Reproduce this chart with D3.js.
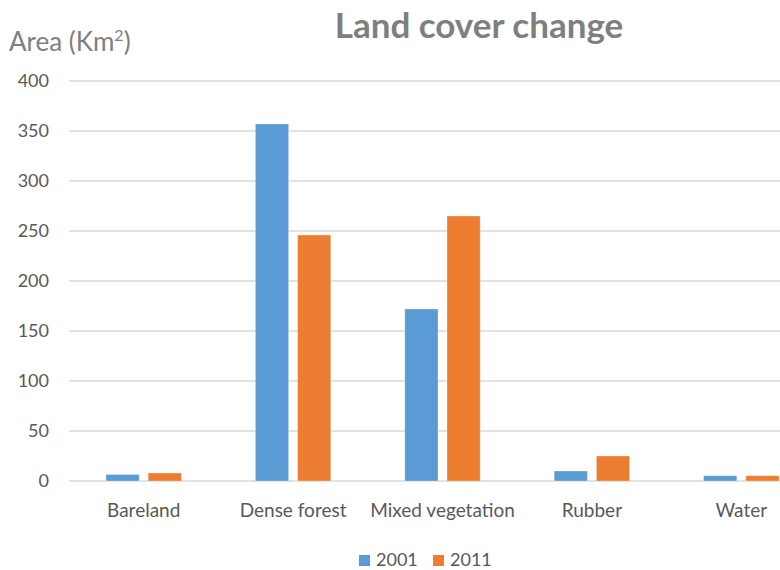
<!DOCTYPE html>
<html lang="en">
<head>
    <meta charset="UTF-8">
    <title>Land cover change</title>
    <script src="https://d3js.org/d3.v7.min.js"></script>
    <style>
        * { margin: 0; padding: 0; box-sizing: border-box; }
        body { background: #fff; font-family: Lato, "Open Sans", sans-serif; }
        svg { display: block; }
    </style>
</head>
<body>
    <div id="chart"></div>
    <script>
        // Values (Km²)
        const categories = ["Bareland", "Dense forest", "Mixed vegetation", "Rubber", "Water"];
        const years = ["2001", "2011"];
        const values2001 = [6.5, 357, 172, 10, 5.3];
        const values2011 = [8, 246, 265, 25, 5.3];
        const yTicks = [0, 50, 100, 150, 200, 250, 300, 350, 400];
        const colors = ["#5B9BD5", "#ED7D31"];

        const width = 780, height = 570;
        const plot = { left: 69, right: 816, top: 81, bottom: 481 };

        const svg = d3.select("#chart").append("svg")
            .attr("width", width)
            .attr("height", height);

        const x0 = d3.scaleBand()
            .domain(categories)
            .range([plot.left, plot.right]);

        const outer = 37;
        const x1 = d3.scaleBand()
            .domain(years)
            .range([outer, x0.bandwidth() - outer])
            .paddingInner(0.213);

        const y = d3.scaleLinear()
            .domain([0, 400])
            .range([plot.bottom, plot.top]);

        const color = d3.scaleOrdinal().domain(years).range(colors);

        // gridlines
        svg.append("g")
            .selectAll("line")
            .data(yTicks)
            .enter()
            .append("line")
            .attr("x1", plot.left)
            .attr("x2", plot.right)
            .attr("y1", d => y(d))
            .attr("y2", d => y(d))
            .attr("stroke", "#D9D9D9")
            .attr("stroke-width", 1.3);

        // y tick labels
        svg.append("g")
            .selectAll("text")
            .data(yTicks)
            .enter()
            .append("text")
            .attr("x", 49)
            .attr("y", d => y(d))
            .attr("dy", "0.35em")
            .attr("text-anchor", "end")
            .attr("font-size", "18px")
            .attr("fill", "#595959")
            .text(d => d);

        // bars
        const rows = categories.map((c, i) => ({ cat: c, vals: [values2001[i], values2011[i]] }));

        const groups = svg.append("g")
            .selectAll("g")
            .data(rows)
            .enter()
            .append("g")
            .attr("transform", d => `translate(${x0(d.cat)},0)`);

        groups.selectAll("rect")
            .data(d => years.map((yr, j) => ({ year: yr, value: d.vals[j] })))
            .enter()
            .append("rect")
            .attr("x", d => x1(d.year))
            .attr("y", d => y(d.value))
            .attr("width", x1.bandwidth())
            .attr("height", d => y(0) - y(d.value))
            .attr("fill", d => color(d.year))
            .attr("stroke", "#fff")
            .attr("stroke-opacity", 0.3)
            .attr("stroke-width", 1);

        // category labels
        svg.append("g")
            .selectAll("text")
            .data(categories)
            .enter()
            .append("text")
            .attr("x", d => x0(d) + x0.bandwidth() / 2)
            .attr("y", 517)
            .attr("text-anchor", "middle")
            .attr("font-size", "19px")
            .attr("fill", "#595959")
            .text(d => d);

        // title
        svg.append("text")
            .attr("x", 479)
            .attr("y", 38)
            .attr("text-anchor", "middle")
            .attr("font-size", "35px")
            .attr("font-weight", "bold")
            .attr("fill", "#7F7F7F")
            .text("Land cover change");

        // y axis label
        const yl = svg.append("text")
            .attr("x", 9)
            .attr("y", 51)
            .attr("font-size", "26px")
            .attr("fill", "#7F7F7F");
        yl.append("tspan").text("Area (Km");
        yl.append("tspan").attr("font-size", "16px").attr("dy", "-10").text("2");
        yl.append("tspan").attr("dy", "10").text(")");

        // legend
        const legend = svg.append("g");
        const legendX = [359, 433];
        years.forEach((yr, i) => {
            legend.append("rect")
                .attr("x", legendX[i])
                .attr("y", 555)
                .attr("width", 11)
                .attr("height", 11)
                .attr("fill", colors[i]);
            legend.append("text")
                .attr("x", legendX[i] + 17)
                .attr("y", 566)
                .attr("font-size", "18px")
                .attr("fill", "#595959")
                .text(yr);
        });
    </script>
</body>
</html>
